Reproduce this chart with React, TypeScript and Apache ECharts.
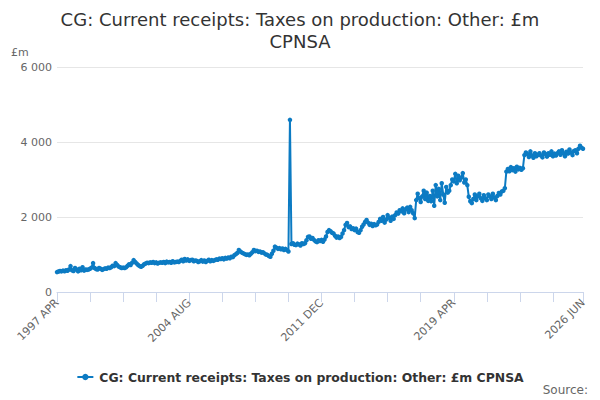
import React, { useEffect, useRef } from "react";
import * as echarts from "echarts";

const TITLE = "CG: Current receipts: Taxes on production: Other: £m\nCPNSA";
const SERIES_NAME = "CG: Current receipts: Taxes on production: Other: £m CPNSA";
const UNIT_LABEL = "£m";
const SOURCE_LABEL = "Source:";
const MONTH_NAMES = ["JAN", "FEB", "MAR", "APR", "MAY", "JUN", "JUL", "AUG", "SEP", "OCT", "NOV", "DEC"];
const START_YEAR = 1997;
const START_MONTH_INDEX = 3; // April
const TICK_EVERY = 22;
const LABEL_EVERY = 88;
const Y_MIN = 0;
const Y_MAX = 6000;
const Y_STEP = 2000;

// 1997 (Apr-Dec) to 2003
const values1997to2003 = [
  530, 545, 560, 550, 570, 555, 580, 565, 600,
  690, 580, 560, 640, 600, 550, 620, 580, 660, 570, 600, 590,
  600, 620, 650, 770, 640, 610, 600, 640, 620, 590, 610, 630,
  620, 650, 640, 660, 700, 690, 770, 720, 680, 660, 640, 650,
  640, 660, 700, 740, 720, 780, 850, 800, 760, 720, 690, 675,
  700, 740, 760, 780, 770, 790, 780, 800, 770, 790, 760, 780,
  790, 780, 800, 770, 810, 790, 800, 780, 820, 790, 800, 810,
];

// 2004 to 2010
const values2004to2010 = [
  800, 830, 860, 820, 880, 840, 870, 830, 850, 860, 820, 840,
  830, 800, 820, 850, 810, 840, 800, 830, 860, 820, 850, 830,
  850, 870, 860, 890, 880, 900, 870, 910, 890, 920, 900, 940,
  930, 980, 1010, 1040, 1120, 1080, 1050, 1030, 1010, 990, 1000, 980,
  1020, 1060, 1120, 1090, 1100, 1070, 1080, 1050, 1060, 1030, 1000, 990,
  960, 940, 1020, 1100, 1210, 1180, 1150, 1170, 1140, 1160, 1120, 1150,
  1120, 1080, 4590, 1280, 1300, 1260, 1250, 1290, 1270, 1240, 1300, 1280,
];

// 2011 to 2017
const values2011to2017 = [
  1300, 1380, 1470, 1480, 1420, 1440, 1390, 1350, 1330, 1380, 1360, 1390,
  1340, 1400, 1480, 1600, 1650, 1620, 1580, 1560, 1500, 1450, 1480, 1440,
  1470, 1560, 1650, 1790, 1840, 1730, 1750, 1680, 1700, 1650, 1690, 1600,
  1580, 1650, 1740, 1800, 1870, 1920, 1850, 1790, 1820, 1760, 1810, 1780,
  1800, 1870, 1950, 1900, 2000, 1850, 1930, 2050, 1980, 1900, 2010, 1950,
  2050, 2120, 2090, 2180, 2150, 2230, 2100, 2200, 2250, 2130, 2270, 2180,
  2100, 1970, 2450, 2620, 2500, 2400, 2550, 2700, 2480, 2650, 2430, 2560,
];

// 2018 to 2026 (Jan-Jun)
const values2018to2026 = [
  2420, 2700, 2300, 2850, 2550, 2750, 2450, 2900, 2600, 2380, 2800, 2650,
  2700, 2850, 3000, 2950, 3150, 2900, 3100, 2980, 3050, 3170, 2920, 3000,
  2850, 2540, 2420, 2370, 2480, 2600, 2450, 2550, 2620, 2500, 2430, 2580,
  2500, 2450, 2600, 2550, 2480, 2620, 2520, 2450, 2560, 2640, 2600, 2680,
  2700, 2770, 3210, 3280, 3220, 3330, 3250, 3300, 3210, 3340, 3270, 3310,
  3260, 3300, 3650, 3720, 3680, 3600, 3750, 3640, 3580, 3700, 3620, 3660,
  3700, 3640, 3590, 3720, 3680, 3610, 3700, 3660, 3750, 3620, 3690, 3640,
  3700, 3750, 3660, 3780, 3700, 3620, 3740, 3690, 3800, 3720, 3650, 3760,
  3780, 3700, 3820, 3900, 3850, 3820,
];

const seriesValues = [...values1997to2003, ...values2004to2010, ...values2011to2017, ...values2018to2026];

const categories = seriesValues.map((_, i) => {
  const m = START_MONTH_INDEX + i;
  return `${START_YEAR + Math.floor(m / 12)} ${MONTH_NAMES[m % 12]}`;
});

const FONT = "DejaVu Sans";
const LINE_COLOR = "#0c7bc3";

function formatThousands(v: number): string {
  return String(v).replace(/\B(?=(\d{3})+(?!\d))/g, " ");
}

export default function App() {
  const ref = useRef<HTMLDivElement>(null);

  useEffect(() => {
    document.body.style.margin = "0";
    if (!ref.current) return;
    const chart = echarts.init(ref.current, undefined, { renderer: "svg" });
    const last = categories.length - 1;
    chart.setOption({
      animation: false,
      textStyle: { fontFamily: FONT },
      title: {
        text: TITLE,
        left: "center",
        top: 3,
        textStyle: {
          fontFamily: FONT,
          fontSize: 18,
          fontWeight: "normal",
          color: "#333333",
          lineHeight: 22,
        },
      },
      grid: { left: 57, right: 17, top: 67, bottom: 108 },
      xAxis: {
        type: "category",
        data: categories,
        boundaryGap: false,
        axisLine: { lineStyle: { color: "#ccd6eb", width: 1 } },
        axisTick: {
          length: 10,
          lineStyle: { color: "#ccd6eb" },
          interval: (i: number) => i % TICK_EVERY === 0 || i === last,
        },
        axisLabel: {
          rotate: 45,
          margin: 9,
          fontSize: 11,
          color: "#666666",
          fontFamily: FONT,
          interval: (i: number) => i % LABEL_EVERY === 0 || i === last,
        },
        splitLine: { show: false },
      },
      yAxis: {
        type: "value",
        min: Y_MIN,
        max: Y_MAX,
        interval: Y_STEP,
        axisLine: { show: false },
        axisTick: { show: false },
        axisLabel: {
          fontSize: 11,
          color: "#666666",
          margin: 5,
          fontFamily: FONT,
          formatter: (v: number) => formatThousands(v),
        },
        splitLine: { lineStyle: { color: "#e6e6e6", width: 1 } },
      },
      legend: {
        data: [SERIES_NAME],
        left: "center",
        top: 366,
        itemWidth: 16,
        itemHeight: 8,
        itemGap: 10,
        textStyle: { fontFamily: FONT, fontSize: 12.4, fontWeight: "bold", color: "#333333", padding: [0, 0, 0, 1] },
      },
      graphic: [
        {
          type: "text",
          left: 11,
          top: 47,
          style: { text: UNIT_LABEL, fontFamily: FONT, fontSize: 11, fill: "#666666" },
        },
        {
          type: "text",
          right: 12,
          top: 384,
          style: { text: SOURCE_LABEL, fontFamily: FONT, fontSize: 12, fill: "#666666" },
        },
      ],
      series: [
        {
          name: SERIES_NAME,
          type: "line",
          data: seriesValues,
          symbol: "circle",
          symbolSize: 4.5,
          showAllSymbol: true,
          itemStyle: { color: LINE_COLOR },
          lineStyle: { color: LINE_COLOR, width: 2 },
        },
      ],
    });
    return () => chart.dispose();
  }, []);

  return <div ref={ref} style={{ width: 600, height: 400 }} />;
}
